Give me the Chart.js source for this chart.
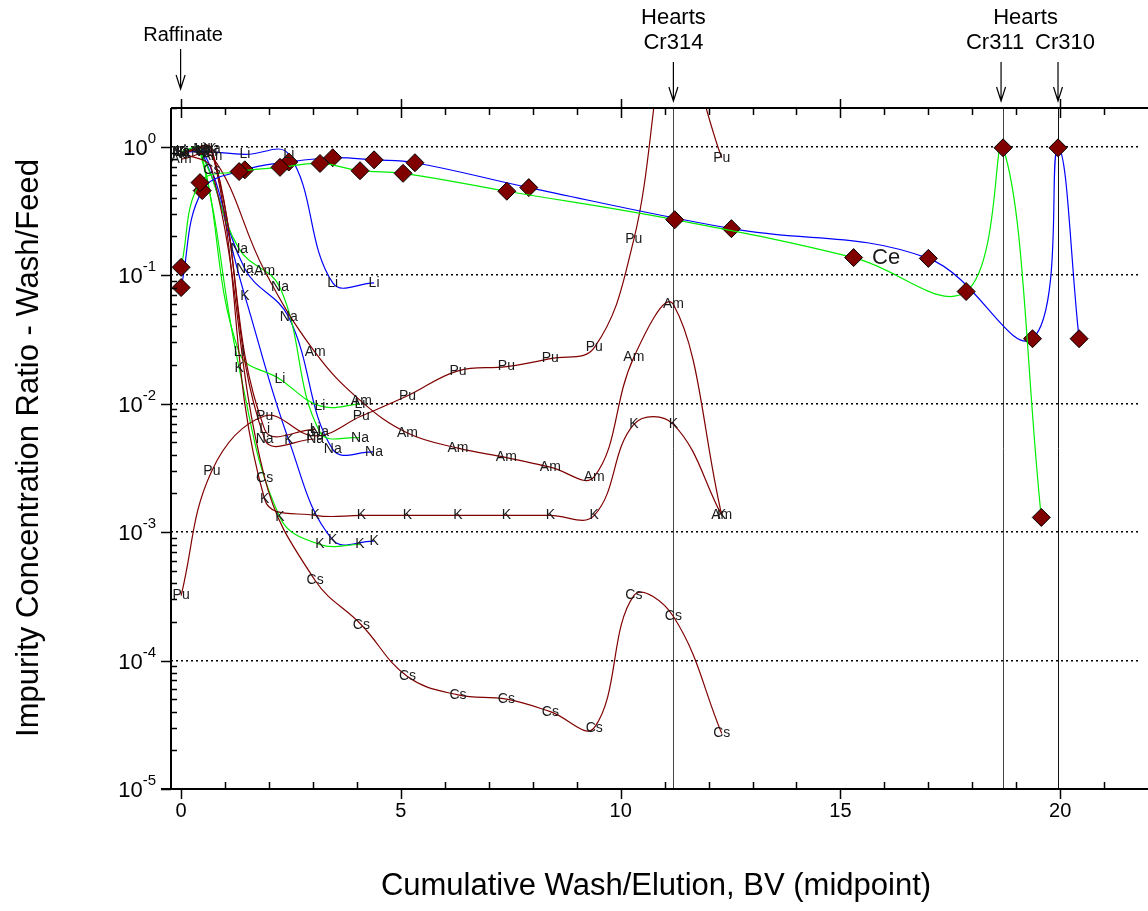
<!DOCTYPE html>
<html>
<head>
<meta charset="utf-8">
<script src="https://cdn.jsdelivr.net/npm/chart.js@4.4.1/dist/chart.umd.min.js"></script>
<style>
  html, body { margin: 0; padding: 0; background: #fff; }
  #wrap { width: 1148px; height: 911px; }
</style>
</head>
<body>
<div id="wrap"><canvas id="myChart" width="1148" height="911"></canvas></div>
<script>
// Cr314 column (dark red)
const x314 = [0, 0.7, 1.9, 3.05, 4.1, 5.15, 6.3, 7.4, 8.4, 9.4, 10.3, 11.2, 12.3]
const pu314 = [3.2e-4, 3e-3, 8e-3, 5.6e-3, 8e-3, 0.0115, 0.018, 0.0194, 0.0224, 0.0273, 0.19, 8, 0.82]
const am314 = [0.8, 0.84, 0.108, 0.025, 0.0104, 5.9e-3, 4.5e-3, 3.8e-3, 3.2e-3, 2.7e-3, 0.023, 0.059, 1.35e-3]
const k314 = [0.9, 0.95, 1.8e-3, 1.35e-3, 1.35e-3, 1.35e-3, 1.35e-3, 1.35e-3, 1.35e-3, 1.35e-3, 6.9e-3, 6.9e-3, 1.35e-3]
const cs314 = [0.9, 0.66, 2.65e-3, 4.2e-4, 1.9e-4, 7.5e-5, 5.4e-5, 5e-5, 4e-5, 3e-5, 3.2e-4, 2.2e-4, 2.7e-5]
const li314 = [0.9, 0.9, 6.3e-3, 6.3e-3]
const na314 = [0.88, 0.95, 5.3e-3, 5.3e-3]

// Cr311 column (green)
const x311 = [0, 0.43, 1.32, 2.25, 3.16, 4.07]
const li311 = [0.92, 0.95, 0.025, 0.0155, 0.0096, 0.0099]
const na311 = [0.9, 0.9, 0.16, 0.08, 6e-3, 5.4e-3]
const k311 = [0.9, 0.92, 0.019, 1.3e-3, 8e-4, 8e-4]

// Cr310 column (blue)
const x310 = [0, 0.48, 1.45, 2.45, 3.45, 4.39]
const li310 = [0.9, 0.92, 0.87, 0.87, 0.087, 0.087]
const na310 = [0.9, 0.95, 0.112, 0.047, 4.4e-3, 4.2e-3]
const k310 = [0.9, 0.9, 0.069, 5.2e-3, 8.7e-4, 8.5e-4]

// Ce (diamonds)
const ceX311 = [0, 0.43, 1.32, 2.25, 3.16, 4.07, 5.05, 7.41, 11.23, 15.3, 17.86, 18.7, 19.57]
const ce311 = [0.115, 0.525, 0.64, 0.69, 0.74, 0.65, 0.62, 0.45, 0.27, 0.137, 0.0745, 0.98, 0.0013]
const ceX310 = [0, 0.48, 1.45, 2.45, 3.45, 4.39, 5.32, 7.91, 12.52, 17.0, 19.37, 19.95, 20.43]
const ce310 = [0.08, 0.455, 0.66, 0.76, 0.82, 0.79, 0.75, 0.48, 0.23, 0.135, 0.032, 0.98, 0.032]

// axis ticks
const xMajor = [0, 5, 10, 15, 20]
const yMajor = [1, 0.1, 0.01, 1e-3, 1e-4, 1e-5]
const yExp = ['0', '-1', '-2', '-3', '-4', '-5']

// hearts cuts
const cutX = [11.2, 18.7, 19.95]

const RED = '#800000'
const GREEN = '#00ee00'
const BLUE = '#0000ff'
const FONT = '"Liberation Sans", Arial, sans-serif'

const pts = (xs, ys) => ys.map((y, i) => ({ x: xs[i], y: y }))

const tagged = (tag, xs, ys, color) => ({
  tag: tag,
  data: pts(xs, ys),
  borderColor: color,
  borderWidth: 1.2,
  pointRadius: 0,
  tension: 0.4,
  fill: false
})

const ceSet = (xs, ys, color) => ({
  data: pts(xs, ys),
  borderColor: color,
  borderWidth: 1.2,
  pointStyle: 'rectRot',
  pointRadius: 9,
  pointBackgroundColor: RED,
  pointBorderColor: '#000',
  pointBorderWidth: 1,
  tension: 0.4,
  fill: false
})

const datasets = [
  ceSet(ceX311, ce311, GREEN),
  ceSet(ceX310, ce310, BLUE),
  tagged('Pu', x314, pu314, RED),
  tagged('Am', x314, am314, RED),
  tagged('K', x314, k314, RED),
  tagged('Cs', x314, cs314, RED),
  tagged('Li', x314, li314, RED),
  tagged('Na', x314, na314, RED),
  tagged('Li', x311, li311, GREEN),
  tagged('Na', x311, na311, GREEN),
  tagged('K', x311, k311, GREEN),
  tagged('Li', x310, li310, BLUE),
  tagged('Na', x310, na310, BLUE),
  tagged('K', x310, k310, BLUE)
]

const isDecade = (v) => {
  const l = Math.log10(v)
  return Math.abs(l - Math.round(l)) < 1e-9
}

const arrow = (ctx, x, y0, y1) => {
  ctx.beginPath()
  ctx.moveTo(x, y0); ctx.lineTo(x, y1)
  ctx.moveTo(x - 4.5, y1 - 14); ctx.lineTo(x, y1); ctx.lineTo(x + 4.5, y1 - 14)
  ctx.stroke()
}

const decor = {
  id: 'decor',
  beforeDatasetsDraw(chart) {
    const ctx = chart.ctx, a = chart.chartArea, xs = chart.scales.x
    ctx.save()
    ctx.lineWidth = 1
    cutX.forEach((v, i) => {
      const px = Math.round(xs.getPixelForValue(v)) + 0.5
      ctx.strokeStyle = i === 2 ? '#111' : '#444'
      ctx.beginPath(); ctx.moveTo(px, a.top); ctx.lineTo(px, a.bottom); ctx.stroke()
    })
    ctx.restore()
  },
  afterDatasetsDraw(chart) {
    const ctx = chart.ctx, a = chart.chartArea
    ctx.save()
    ctx.font = '14px ' + FONT
    ctx.fillStyle = '#1a1a1a'
    ctx.textAlign = 'center'
    ctx.textBaseline = 'middle'
    chart.data.datasets.forEach((ds, i) => {
      if (!ds.tag) return
      chart.getDatasetMeta(i).data.forEach(p => {
        if (p.y < a.top || p.y > a.bottom) return
        ctx.fillText(ds.tag, p.x, p.y)
      })
    })
    // Ce note
    ctx.font = '22px ' + FONT
    ctx.textAlign = 'left'
    ctx.fillText('Ce', chart.scales.x.getPixelForValue(15.72), chart.scales.y.getPixelForValue(0.137))
    ctx.restore()
  },
  afterDraw(chart) {
    const ctx = chart.ctx, a = chart.chartArea
    const xs = chart.scales.x, ys = chart.scales.y
    const right = chart.width
    ctx.save()
    ctx.strokeStyle = '#000'
    ctx.fillStyle = '#000'
    // frame
    ctx.lineWidth = 2
    ctx.beginPath()
    ctx.moveTo(a.left, a.top); ctx.lineTo(right, a.top)
    ctx.moveTo(a.left, a.top); ctx.lineTo(a.left, a.bottom)
    ctx.moveTo(a.left - 10, a.bottom); ctx.lineTo(right, a.bottom)
    ctx.stroke()
    // x ticks
    ctx.lineWidth = 1.5
    ctx.beginPath()
    for (let v = 0; v <= 21; v++) {
      const px = Math.round(xs.getPixelForValue(v)) + 0.5
      if (v % 5 === 0) {
        ctx.moveTo(px, a.bottom); ctx.lineTo(px, a.bottom + 10)
        ctx.moveTo(px, a.top - 9); ctx.lineTo(px, a.top + 10)
      } else {
        ctx.moveTo(px, a.bottom); ctx.lineTo(px, a.bottom - 7)
        ctx.moveTo(px, a.top); ctx.lineTo(px, a.top + 7)
      }
    }
    // y ticks
    for (let e = -5; e <= 0; e++) {
      for (let m = 1; m <= 9; m++) {
        const v = m * Math.pow(10, e)
        if (v > 2) continue
        const py = Math.round(ys.getPixelForValue(v)) + 0.5
        if (m === 1) {
          ctx.moveTo(a.left - 10, py); ctx.lineTo(a.left, py)
        } else {
          ctx.moveTo(a.left, py); ctx.lineTo(a.left + 6, py)
        }
      }
    }
    ctx.stroke()

    // x tick labels
    ctx.font = '20px ' + FONT
    ctx.textAlign = 'center'
    ctx.textBaseline = 'middle'
    xMajor.forEach(v => ctx.fillText(String(v), xs.getPixelForValue(v), a.bottom + 22))

    // y tick labels 10^n
    yMajor.forEach((v, i) => {
      const py = ys.getPixelForValue(v)
      ctx.font = '15px ' + FONT
      const wSup = ctx.measureText(yExp[i]).width
      ctx.textAlign = 'left'
      ctx.fillText(yExp[i], a.left - 15 - wSup, py - 8)
      ctx.font = '22px ' + FONT
      ctx.textAlign = 'right'
      ctx.fillText('10', a.left - 15 - wSup, py + 2)
    })

    // axis titles
    ctx.font = '31px ' + FONT
    ctx.textAlign = 'center'
    ctx.fillText('Cumulative Wash/Elution, BV (midpoint)', 656, 886)
    ctx.save()
    ctx.translate(29, 448)
    ctx.rotate(-Math.PI / 2)
    ctx.fillText('Impurity Concentration Ratio - Wash/Feed', 0, 0)
    ctx.restore()

    // top annotations
    ctx.lineWidth = 1.2
    const p0 = xs.getPixelForValue(0)
    const p314 = xs.getPixelForValue(cutX[0])
    const p311 = xs.getPixelForValue(cutX[1])
    const p310 = xs.getPixelForValue(cutX[2])
    arrow(ctx, p0 - 0.5, 49, 89)
    arrow(ctx, p314, 62, 101)
    arrow(ctx, p311 - 2, 62, 101)
    arrow(ctx, p310, 62, 101)
    ctx.font = '20px ' + FONT
    ctx.fillText('Raffinate', p0 + 2, 35)
    ctx.font = '22px ' + FONT
    ctx.fillText('Hearts', p314, 18)
    ctx.fillText('Cr314', p314, 43)
    ctx.fillText('Hearts', (p311 + p310) / 2 - 5, 18)
    ctx.fillText('Cr311', p311 - 8, 43)
    ctx.fillText('Cr310', p310 + 7, 43)
    ctx.restore()
  }
}

new Chart(document.getElementById('myChart'), {
  type: 'line',
  data: { datasets: datasets },
  options: {
    responsive: false,
    animation: false,
    devicePixelRatio: 1,
    layout: { padding: { left: 171, top: 108, right: 0, bottom: 122 } },
    plugins: { legend: { display: false }, tooltip: { enabled: false } },
    scales: {
      x: {
        type: 'linear',
        min: -0.23,
        max: 21.77,
        ticks: { display: false, stepSize: 1 },
        grid: {
          drawTicks: false,
          lineWidth: 1.5,
          color: (c) => c.tick && c.tick.value >= 0 && c.tick.value % 5 === 0 ? '#000' : 'rgba(0,0,0,0)'
        },
        border: { display: false, dash: [2, 3] }
      },
      y: {
        type: 'logarithmic',
        min: 1e-5,
        max: 2,
        ticks: { display: false },
        grid: {
          drawTicks: false,
          lineWidth: 1.5,
          color: (c) => c.tick && isDecade(c.tick.value) && c.tick.value > 2e-5 && c.tick.value < 1.5 ? '#000' : 'rgba(0,0,0,0)'
        },
        border: { display: false, dash: [2, 3] }
      }
    }
  },
  plugins: [decor]
})
</script>
</body>
</html>
